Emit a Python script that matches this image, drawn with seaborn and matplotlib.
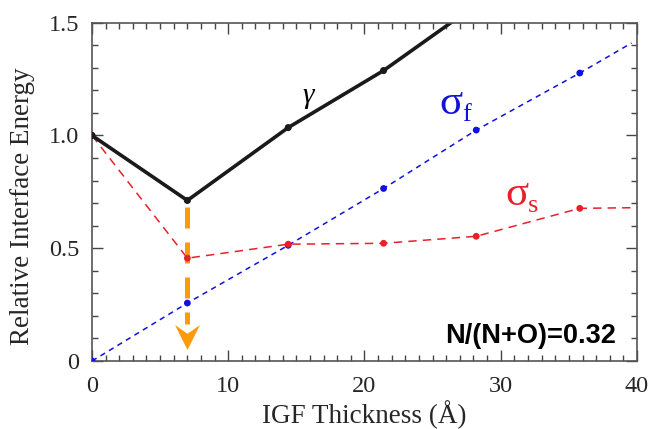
import matplotlib
matplotlib.use("Agg")
import matplotlib.pyplot as plt
import numpy as np
import pandas as pd
import seaborn as sns
from matplotlib.ticker import MultipleLocator, FuncFormatter

# IGF thickness (Angstrom) at the sampled configurations
thickness = [0.0, 7.0, 14.4, 21.4, 28.2, 35.8]

# total interface energy gamma (last point runs above the frame)
gamma_x = [0.0, 7.0, 14.4, 21.4, 28.2]
gamma = [1.0, 0.712, 1.035, 1.288, 1.58]

# film energy sigma_f; line continues past the last sample
sigma_f_x = [0.0, 7.0, 14.4, 21.4, 28.2, 35.8, 39.6]
sigma_f = [0.0, 0.257, 0.513, 0.765, 1.024, 1.277, 1.41]

# interface energy sigma_s; line continues past the last sample
sigma_s_x = [0.0, 7.0, 14.4, 21.4, 28.2, 35.8, 40.0]
sigma_s = [1.0, 0.456, 0.518, 0.522, 0.553, 0.677, 0.68]

x_ticks = [0, 10, 20, 30, 40]
y_ticks = [0, 0.5, 1.0, 1.5]

BLUE = "#1111dd"
RED = "#e8202a"
ORANGE = "#ff9a0a"

sns.set_theme(style="ticks")
plt.rcParams["font.family"] = ["Liberation Serif", "DejaVu Serif"]
plt.rcParams["mathtext.fontset"] = "custom"
plt.rcParams["mathtext.rm"] = "Liberation Serif"
plt.rcParams["mathtext.it"] = "Liberation Serif:italic"

fig = plt.figure(figsize=(6.51, 4.29), dpi=100)
ax = fig.add_axes([0.1413, 0.1585, 0.8372, 0.7885])

df_g = pd.DataFrame({"x": gamma_x, "y": gamma})
df_f = pd.DataFrame({"x": sigma_f_x, "y": sigma_f})
df_s = pd.DataFrame({"x": sigma_s_x, "y": sigma_s})

sns.lineplot(data=df_f, x="x", y="y", ax=ax, color=BLUE, lw=1.1,
             linestyle=(0, (3.5, 3)), estimator=None, sort=False)
sns.lineplot(data=df_s, x="x", y="y", ax=ax, color=RED, lw=1.1,
             linestyle=(0, (5.5, 4)), estimator=None, sort=False)
sns.lineplot(data=df_g, x="x", y="y", ax=ax, color="#1a1a1a", lw=2.6,
             estimator=None, sort=False)

n = len(thickness)
sns.scatterplot(x=sigma_f_x[:n], y=sigma_f[:n], ax=ax, color=BLUE, s=24,
                edgecolor="none", zorder=5)
sns.scatterplot(x=sigma_s_x[:n], y=sigma_s[:n], ax=ax, color=RED, s=24,
                edgecolor="none", zorder=5)
sns.scatterplot(x=gamma_x, y=gamma, ax=ax, color="#1a1a1a", s=26,
                edgecolor="none", zorder=6)

# dashed arrow dropping from the gamma minimum
i_min = int(np.argmin(gamma))
x_min = gamma_x[i_min]
ax.plot([x_min, x_min], [gamma[i_min] - 0.03, 0.165], color=ORANGE, lw=3.6,
        linestyle=(0, (4.2, 2.8)), solid_capstyle="butt",
        dash_capstyle="butt", zorder=4)
head = [(-1.0, 1.0), (0.0, -1.0), (1.0, 1.0), (0.0, 0.3), (-1.0, 1.0)]
ax.plot([x_min], [0.105], marker=head, markersize=18, color=ORANGE,
        markeredgewidth=0, linestyle="none", zorder=4)

# curve labels: symbol plus a separate, lowered subscript
ax.text(15.4, 1.146, r"$\gamma$", fontsize=21, color="black",
        ha="left", va="baseline")
ax.text(25.5, 1.097, "σ", fontsize=31, color=BLUE, ha="left", va="baseline")
ax.text(27.2, 1.066, "f", fontsize=19, color=BLUE, ha="left", va="baseline")
ax.text(30.35, 0.69, "σ", fontsize=31, color=RED, ha="left", va="baseline")
ax.text(32.0, 0.659, "s", fontsize=19, color=RED, ha="left", va="baseline")
ax.text(38.45, 0.08, "N/(N+O)=0.32", fontsize=19.5, fontweight="bold",
        family="Liberation Sans", ha="right", va="baseline", color="black")

ax.set_xlim(0, 40)
ax.set_ylim(0, 1.5)
ax.set_xticks(x_ticks)
ax.set_yticks(y_ticks)
ax.xaxis.set_minor_locator(MultipleLocator(1))
ax.yaxis.set_minor_locator(MultipleLocator(0.1))
ax.yaxis.set_major_formatter(FuncFormatter(lambda v, p: "0" if v == 0 else f"{v:.1f}"))
ax.xaxis.set_major_formatter(FuncFormatter(lambda v, p: f"{v:.0f}"))

ax.tick_params(which="both", direction="in", top=True, right=True,
               color="#444444", width=1.0, labelsize=17.5)
ax.tick_params(axis="x", which="major", pad=11)
ax.tick_params(axis="y", which="major", pad=9)
ax.tick_params(which="major", length=8)
ax.tick_params(which="minor", length=4.5)
for sp in ax.spines.values():
    sp.set_color("#555555")
    sp.set_linewidth(1.2)

ax.set_xlabel("IGF Thickness (Å)", fontsize=19.5, labelpad=2)
ax.set_ylabel("Relative Interface Energy", fontsize=19.5)
ax.yaxis.set_label_coords(-0.105, 0.457)

fig.savefig("out.png", dpi=100)
